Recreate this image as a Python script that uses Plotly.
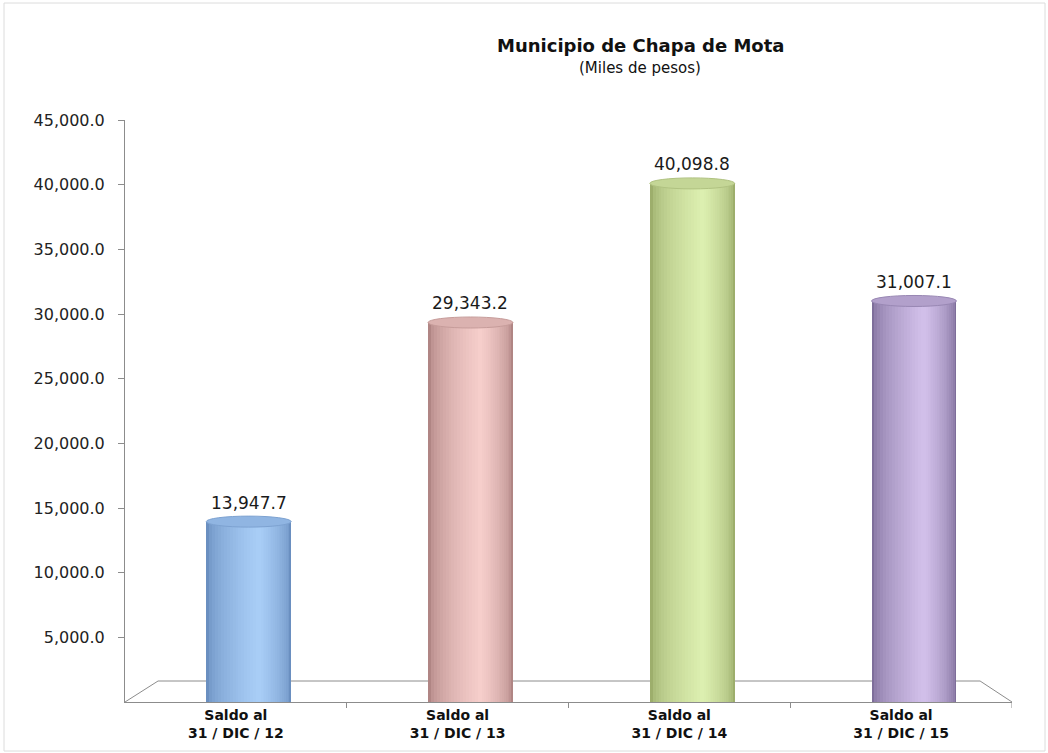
import plotly.graph_objects as go

# ---------------- data ----------------
categories = ["Saldo al<br>31 / DIC / 12", "Saldo al<br>31 / DIC / 13",
              "Saldo al<br>31 / DIC / 14", "Saldo al<br>31 / DIC / 15"]
values = [13947.7, 29343.2, 40098.8, 31007.1]
y_ticks = [5000, 10000, 15000, 20000, 25000, 30000, 35000, 40000, 45000]
title_text = "Municipio de Chapa de Mota"
subtitle_text = "(Miles de pesos)"

# ---------------- style ----------------
edge_colors = ["#6A8FC0", "#B08584", "#9DAE6C", "#7E6E9A"]
high_colors = ["#AACFF8", "#F8D0CD", "#DEF1B2", "#D4C2EC"]
BAR_W = 0.383          # bar width in category units
SHIFT = 0.058          # perspective shift of bars to the right
N_LAYERS = 18
HL_POS = 0.62          # highlight position across the bar
Y_MAX = 45000
AXIS_COL = "#8c8c8c"
PLOT_H = 582
PLOT_W = 887


def hex2rgb(h):
    h = h.lstrip("#")
    return tuple(int(h[i:i + 2], 16) for i in (0, 2, 4))


def lerp(c1, c2, t):
    a, b = hex2rgb(c1), hex2rgb(c2)
    return "rgb(%d,%d,%d)" % tuple(round(a[i] + (b[i] - a[i]) * t) for i in range(3))


xpos = list(range(len(values)))
fig = go.Figure()

# cylinder bodies built from overlaid bars of decreasing width
for k in range(N_LAYERS):
    t = k / N_LAYERS
    s = t ** 0.55
    offs, widths, cols = [], [], []
    for i in xpos:
        L = SHIFT - BAR_W / 2
        R = SHIFT + BAR_W / 2
        H = L + HL_POS * BAR_W
        a = L + (H - L) * t
        b = R - (R - H) * t
        b = max(b, a + 0.004)
        offs.append(a)
        widths.append(b - a)
        cols.append(lerp(edge_colors[i], high_colors[i], s))
    fig.add_trace(go.Bar(
        x=xpos, y=values, offset=offs, width=widths,
        marker=dict(color=cols, line=dict(width=0)),
        hoverinfo="skip" if k else "y", showlegend=False,
    ))

# top caps of cylinders
cap_half = 5.5 / PLOT_H * Y_MAX
shapes = []
for i, v in zip(xpos, values):
    shapes.append(dict(
        type="circle", xref="x", yref="y",
        x0=i + SHIFT - BAR_W / 2, x1=i + SHIFT + BAR_W / 2,
        y0=v - cap_half, y1=v + cap_half,
        fillcolor=lerp(edge_colors[i], high_colors[i], 0.6),
        line=dict(color=lerp(edge_colors[i], high_colors[i], 0.3), width=1),
        layer="above",
    ))

# floor (3-D base)
floor_back_y = 21 / PLOT_H
fl = dict(color=AXIS_COL, width=1)
shapes += [
    dict(type="line", xref="x", yref="paper", x0=-0.351, x1=3.356,
         y0=floor_back_y, y1=floor_back_y, line=fl, layer="below"),
    dict(type="line", xref="x", yref="paper", x0=-0.5, x1=-0.351,
         y0=0, y1=floor_back_y, line=fl, layer="below"),
    dict(type="line", xref="x", yref="paper", x0=3.356, x1=3.5,
         y0=floor_back_y, y1=0, line=fl, layer="below"),
    dict(type="line", xref="x", yref="paper", x0=3.5, x1=3.5,
         y0=0, y1=-6 / PLOT_H, line=fl, layer="below"),
]
# faint outer frame
shapes.append(dict(type="rect", xref="paper", yref="paper",
                   x0=(4 - 125) / PLOT_W, x1=(1045 - 125) / PLOT_W,
                   y0=(702 - 751) / PLOT_H, y1=(702 - 3) / PLOT_H,
                   line=dict(color="#dcdcdc", width=1), layer="below"))

annotations = []
for i, v in zip(xpos, values):
    annotations.append(dict(
        x=i + SHIFT, y=v, xref="x", yref="y", text=f"{v:,.1f}",
        showarrow=False, yanchor="bottom", yshift=7,
        font=dict(family="DejaVu Sans", size=17, color="#1a1a1a"),
    ))
annotations.append(dict(
    x=(640 - 125) / PLOT_W, y=(702 - 45) / PLOT_H, xref="paper", yref="paper",
    xanchor="center", yanchor="middle",
    text=f"<b>{title_text}</b>", showarrow=False,
    font=dict(family="DejaVu Sans", size=18, color="#111111"),
))
annotations.append(dict(
    x=(640 - 125) / PLOT_W, y=(702 - 68) / PLOT_H, xref="paper", yref="paper",
    xanchor="center", yanchor="middle",
    text=subtitle_text, showarrow=False,
    font=dict(family="DejaVu Sans", size=15, color="#111111"),
))

fig.update_layout(
    width=1048, height=753, autosize=False,
    margin=dict(l=125, r=36, t=120, b=51),
    paper_bgcolor="white", plot_bgcolor="white",
    barmode="overlay", bargap=0,
    shapes=shapes, annotations=annotations,
    xaxis=dict(
        range=[-0.5, 3.5], tickvals=xpos,
        ticktext=[f"<b>{c}</b>" for c in categories],
        tickfont=dict(family="DejaVu Sans", size=14, color="#111111"),
        showline=True, linecolor=AXIS_COL, linewidth=1,
        ticks="", showgrid=False, zeroline=False,
        minor=dict(tickvals=[0.5, 1.5, 2.5], ticks="outside", ticklen=5,
                   tickcolor=AXIS_COL, showgrid=False),
    ),
    yaxis=dict(
        range=[0, Y_MAX], tickvals=y_ticks, tickformat=",.1f",
        tickfont=dict(family="DejaVu Sans", size=16, color="#222222"),
        ticks="outside", ticklen=6, tickcolor=AXIS_COL,
        showline=True, linecolor=AXIS_COL, linewidth=1,
        showgrid=False, zeroline=False, ticklabelstandoff=10,
    ),
)

fig.write_html("out.html", config={"displayModeBar": False},
               post_script="document.body.style.margin='0px';"
                           "document.body.style.overflow='hidden';")
